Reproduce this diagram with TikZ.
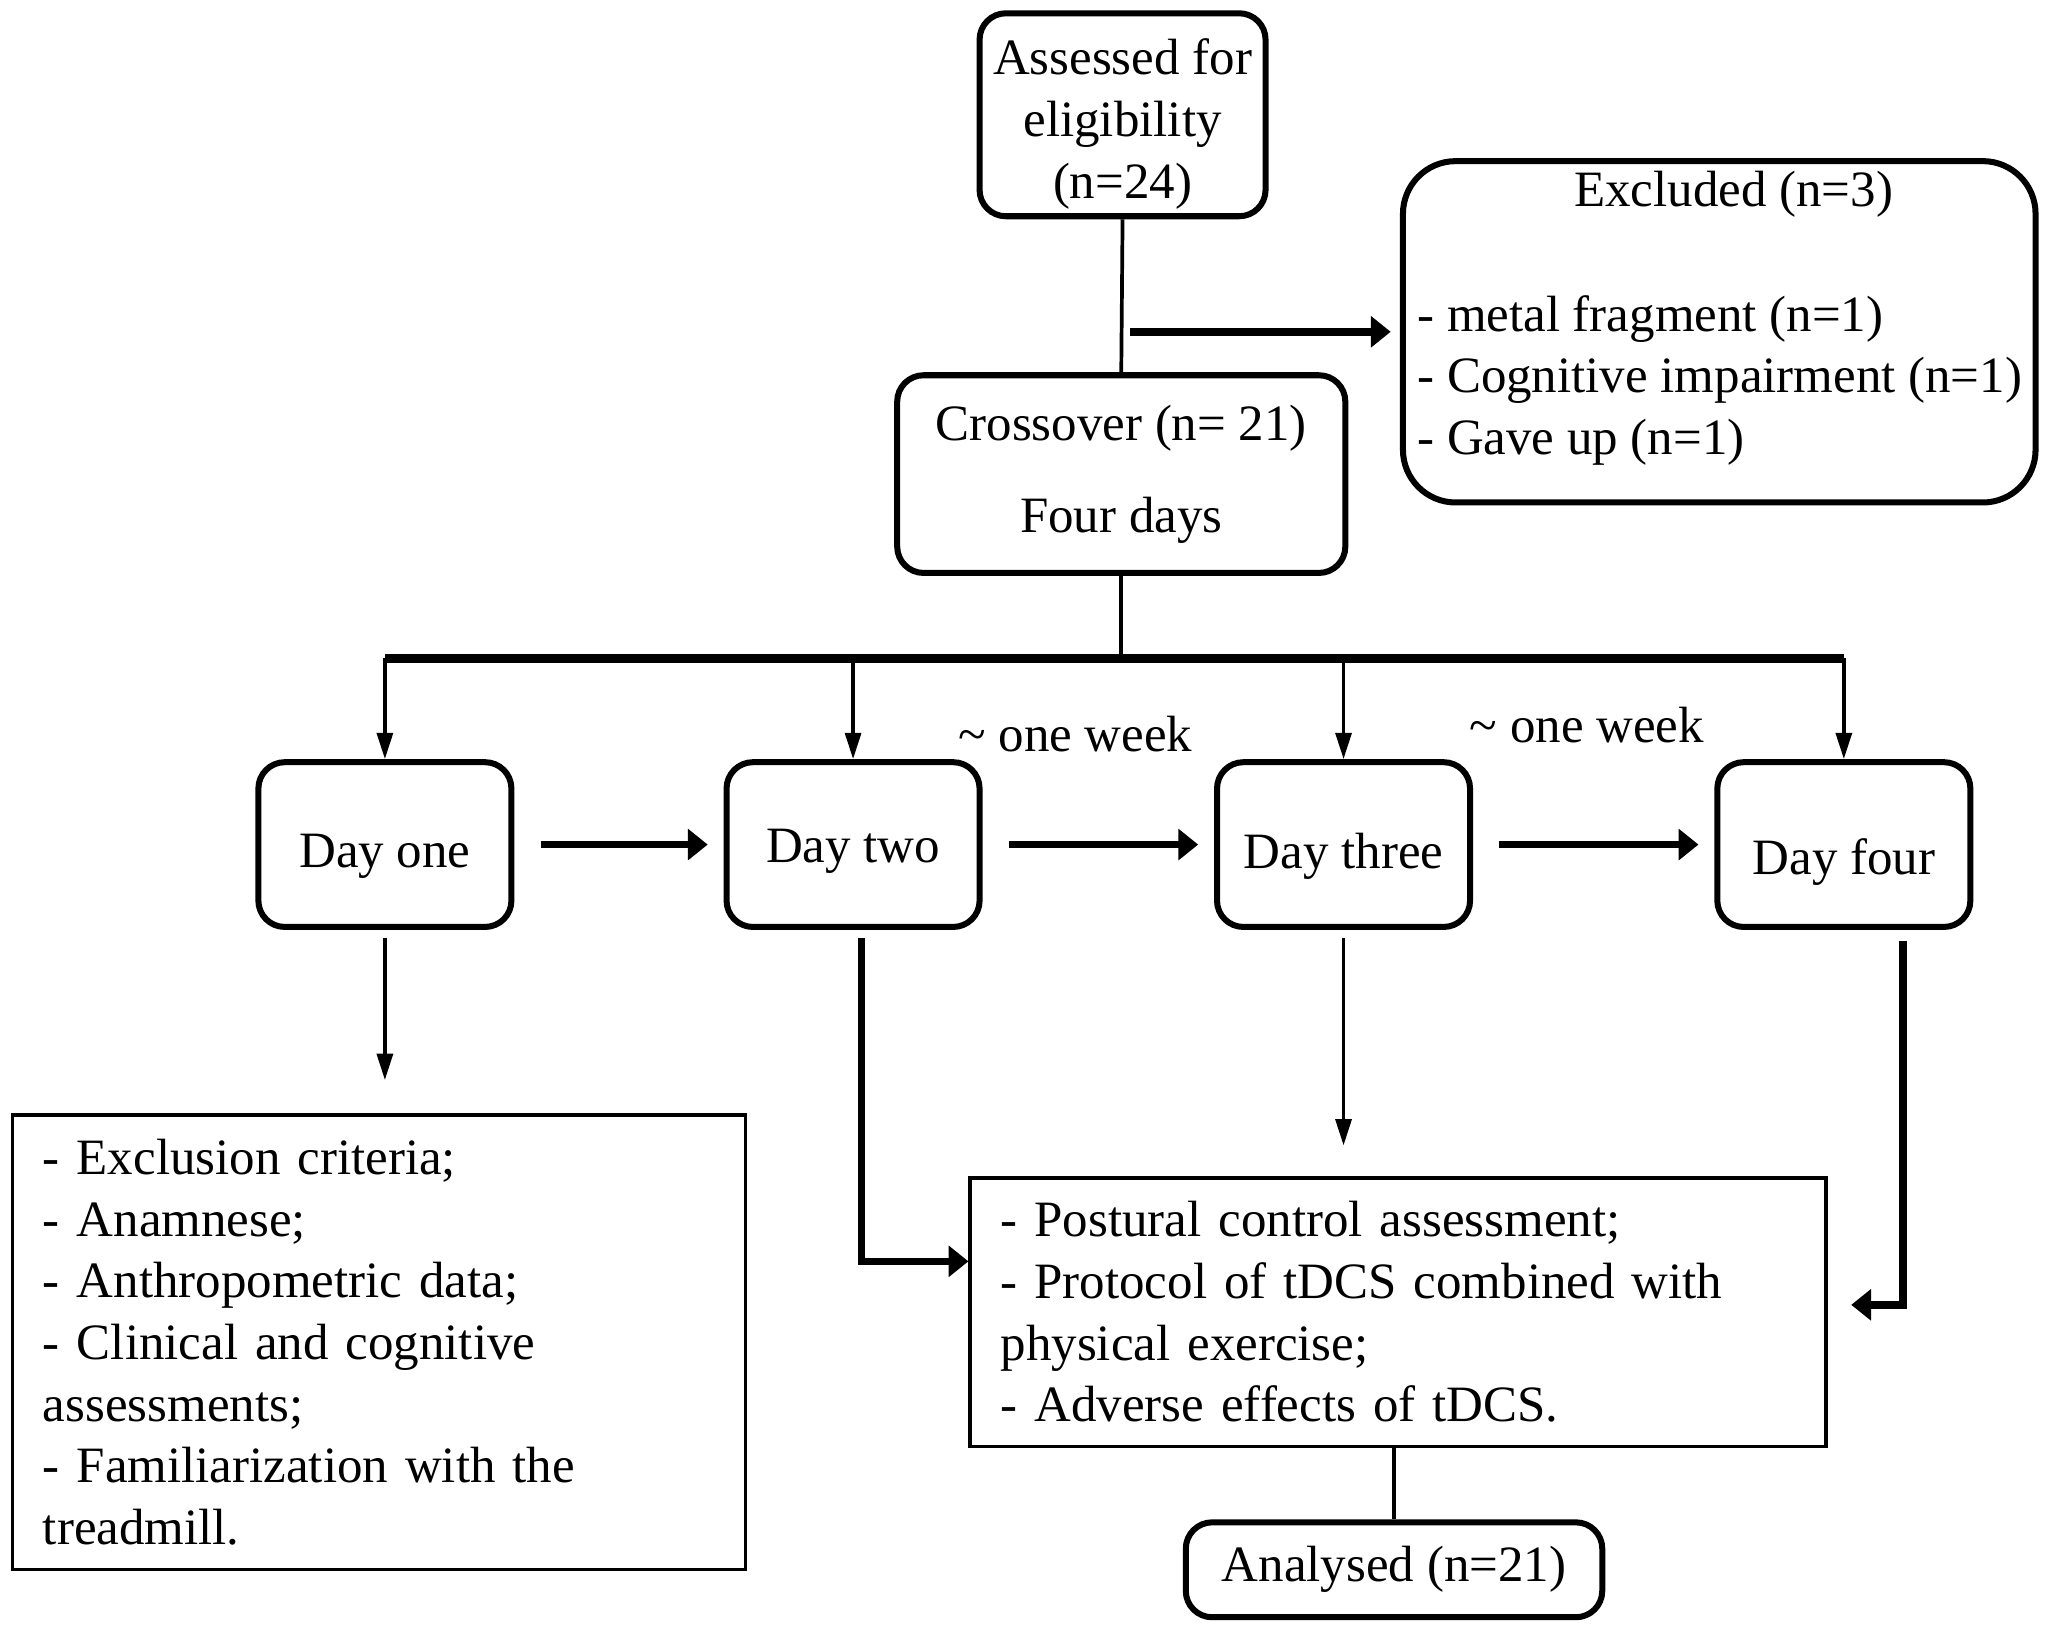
\documentclass[tikz,border=0pt]{standalone}
\usepackage{fontspec}
\setmainfont{Liberation Serif}
\usepackage{tikz}
\usetikzlibrary{arrows.meta,positioning}
\tikzstyle{roundbox} = [draw, line width=1.3pt, rounded corners=2mm, align=center, inner sep=0pt]
\tikzstyle{daybox} = [roundbox, minimum width=19.2mm, minimum height=12.5mm]
\tikzstyle{plainbox} = [draw, line width=0.8pt, align=left, inner xsep=2.3mm, inner ysep=0pt]
\tikzstyle{link} = [draw, line width=0.8pt]
\tikzstyle{arrow} = [draw, line width=0.8pt, -{Triangle[length=2mm,width=1.2mm]}]
\tikzstyle{thickarrow} = [draw, line width=1.6pt, -{Triangle[length=1.5mm,width=2.3mm]}]

\begin{document}
\begin{tikzpicture}[x=0.0995mm,y=-0.0995mm,font=\fontsize{11pt}{13.3pt}\selectfont]
\useasboundingbox (0mm,0mm) rectangle (156mm,-124mm);

\node[roundbox,minimum width=21.7mm,minimum height=15.4mm](assess) at (856,87.5) {};
\node[align=center] at ([yshift=-0.7mm]assess.center) {Assessed for\\eligibility\\(n=24)};
\node[roundbox,minimum width=34mm,minimum height=15mm](cross) at (855,361.5) {Crossover (n= 21)\\[2.3mm]Four days};
\node[roundbox,rounded corners=4mm,minimum width=48mm,minimum height=25.9mm](excl) at (1311,253) {};
\node at (1322,148) {Excluded (n=3)};
\node[anchor=west,align=left,inner xsep=1mm] at (1070,290) {- metal fragment (n=1)\\- Cognitive impairment (n=1)\\- Gave up (n=1)};

\draw[link] (assess.south) -- (cross.north);
\coordinate (split) at (862,253);
\draw[thickarrow,shorten >=0.7mm] (split) -- (excl.west);

% the four visits
\foreach \x/\t/\dy [count=\n] in {293.5/one/0.9mm,650.5/two/0.5mm,1024.5/three/0.9mm,1406/four/1.3mm}
{
\node[daybox](D\n) at (\x,644) {};
\node at ([yshift=-\dy]D\n.center) {Day \t};
}

\coordinate (bar) at (855,502);
\draw[link] (cross.south) -- (bar);
\draw[line width=1.8pt] (D1.north |- bar) -- (D4.north |- bar);
\foreach \n in {1,...,4}
\draw[arrow] (D\n.north |- bar) -- (D\n.north);
\foreach \a/\b in {1/2,2/3,3/4}
\draw[thickarrow,shorten <=2mm,shorten >=1.2mm] (D\a.east) -- (D\b.west);

\node at (820,560) {\textasciitilde{} one week};
\node at (1210,553) {\textasciitilde{} one week};

\node[plainbox,text width=51mm,minimum height=34.5mm](first) at (289,1023.5) {- Exclusion criteria;\\- Anamnese;\\- Anthropometric data;\\- Clinical and cognitive\\assessments;\\- Familiarization with the\\treadmill.};
\node[plainbox,text width=60.3mm,minimum height=20.4mm](visit) at (1066,1000.5) {- Postural control assessment;\\- Protocol of tDCS combined with\\physical exercise;\\- Adverse effects of tDCS.};
\node[roundbox,minimum width=31.6mm,minimum height=7.2mm](anal) at (1063,1197) {Analysed (n=21)};

\draw[arrow,shorten <=0.6mm,shorten >=2.5mm] (D1.south) -- (D1.south |- first.north);
\draw[thickarrow,shorten <=0.6mm] ([xshift=0.65mm]D2.south) |- ([yshift=3.85mm]visit.west);
\draw[arrow,shorten <=0.6mm,shorten >=2.3mm] (D3.south) -- (D3.south |- visit.north);
\draw[thickarrow,shorten <=0.8mm,shorten >=1.8mm] ([xshift=4.5mm]D4.south) |- ([yshift=0.55mm]visit.east);
\draw[link] (anal.north |- visit.south) -- (anal.north);
\end{tikzpicture}
\end{document}
